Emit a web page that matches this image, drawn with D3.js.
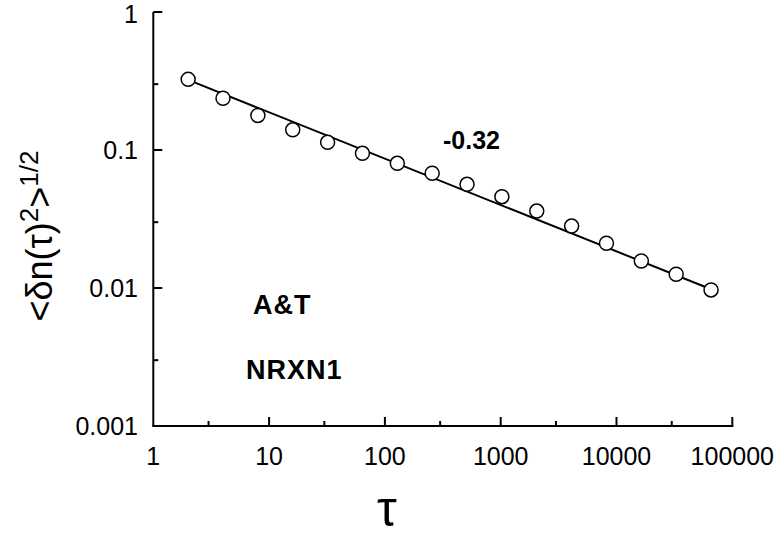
<!DOCTYPE html>
<html><head><meta charset="utf-8">
<script src="https://cdn.jsdelivr.net/npm/d3@7"></script>
<style>body{margin:0;background:#fff}svg{display:block}text{font-family:"Liberation Sans",Arial,sans-serif}</style>
</head><body>
<svg id="c" width="780" height="537"></svg>
<script>
const tau = [2,4,8,16,32,64,128,256,512,1024,2048,4096,8192,16384,32768,65536];
const dn  = [0.325,0.237,0.178,0.140,0.1137,0.0946,0.0801,0.0678,0.0564,0.0459,0.0361,0.0281,0.0211,0.0157,0.01257,0.00968];
const fitX = [2,65536];
const fitY = [0.322,0.0098];
const xMajor = [1,10,100,1000,10000,100000];
const xMajorLabels = ["1","10","100","1000","10000","100000"];
const xMinor = [3,30,300,3000,30000];
const yMajor = [1,0.1,0.01,0.001];
const yMajorLabels = ["1","0.1","0.01","0.001"];
const yMinor = [0.3,0.03,0.003];

const svg = d3.select("#c");
const x = d3.scaleLog().domain([1,100000]).range([153.3,732.3]);
const y = d3.scaleLog().domain([0.001,1]).range([426,12]);

const g = svg.append("g");
g.append("line").attr("x1",x(1)).attr("x2",x(1)).attr("y1",y(1)).attr("y2",y(0.001)).attr("stroke","#000").attr("stroke-width",2);
g.append("line").attr("x1",x(1)-1).attr("x2",x(100000)+1).attr("y1",y(0.001)).attr("y2",y(0.001)).attr("stroke","#000").attr("stroke-width",2);

g.selectAll(".xt").data(xMajor.slice(1)).enter().append("line")
 .attr("x1",d=>x(d)).attr("x2",d=>x(d)).attr("y1",y(0.001)).attr("y2",y(0.001)-9).attr("stroke","#000").attr("stroke-width",2);
g.selectAll(".xm").data(xMinor).enter().append("line")
 .attr("x1",d=>x(d)).attr("x2",d=>x(d)).attr("y1",y(0.001)).attr("y2",y(0.001)-5).attr("stroke","#000").attr("stroke-width",2);
g.selectAll(".xl").data(xMajor).enter().append("text")
 .attr("x",d=>x(d)).attr("y",465).attr("text-anchor","middle").attr("font-size",25).text((d,i)=>xMajorLabels[i]);

g.selectAll(".yt").data(yMajor.slice(0,3)).enter().append("line")
 .attr("x1",x(1)).attr("x2",x(1)+9).attr("y1",d=>y(d)).attr("y2",d=>y(d)).attr("stroke","#000").attr("stroke-width",2);
g.selectAll(".ym").data(yMinor).enter().append("line")
 .attr("x1",x(1)).attr("x2",x(1)+5).attr("y1",d=>y(d)).attr("y2",d=>y(d)).attr("stroke","#000").attr("stroke-width",2);
g.selectAll(".yl").data(yMajor).enter().append("text")
 .attr("x",138).attr("y",d=>Math.max(y(d)+9,23)).attr("text-anchor","end").attr("font-size",25).text((d,i)=>yMajorLabels[i]);

g.append("path").datum(fitX.map((v,i)=>[v,fitY[i]]))
 .attr("d",d3.line().x(d=>x(d[0])).y(d=>y(d[1])))
 .attr("stroke","#000").attr("stroke-width",2).attr("fill","none");

g.selectAll(".pt").data(tau.map((v,i)=>[v,dn[i]])).enter().append("circle")
 .attr("cx",d=>x(d[0])).attr("cy",d=>y(d[1])).attr("r",7)
 .attr("fill","#fff").attr("stroke","#000").attr("stroke-width",1.5);

g.append("text").attr("x",443).attr("y",149).attr("font-size",25).attr("font-weight","bold").text("-0.32");
g.append("text").attr("x",253).attr("y",314).attr("font-size",27).attr("font-weight","bold").attr("letter-spacing",1).text("A&T");
g.append("text").attr("x",246).attr("y",379).attr("font-size",27).attr("font-weight","bold").attr("letter-spacing",1).text("NRXN1");

g.append("text").attr("x",387).attr("y",526).attr("text-anchor","middle").attr("font-size",50).text("τ");
const yl = g.append("text").attr("transform","translate(52,236) rotate(-90)").attr("text-anchor","middle").attr("font-size",36);
yl.append("tspan").text("<δn(τ)");
yl.append("tspan").attr("dy",-14).attr("font-size",26).text("2");
yl.append("tspan").attr("dy",14).text(">");
yl.append("tspan").attr("dy",-14).attr("font-size",26).text("1/2");
</script>
</body></html>
